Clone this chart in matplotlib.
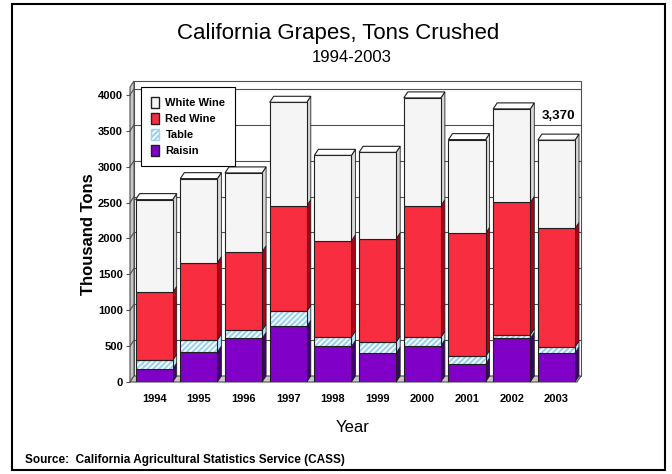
import matplotlib
matplotlib.use("Agg")
import matplotlib.pyplot as plt
from matplotlib import font_manager
from matplotlib.patches import Polygon, Rectangle, Patch

# Data (thousand tons)
years = ["1994", "1995", "1996", "1997", "1998", "1999", "2000", "2001", "2002", "2003"]
raisin = [181, 418, 608, 775, 496, 404, 506, 251, 608, 404]
table = [120, 167, 112, 209, 131, 153, 116, 106, 51, 84]
red_wine = [948, 1078, 1096, 1473, 1342, 1440, 1835, 1714, 1844, 1653]
white_wine = [1292, 1170, 1097, 1440, 1189, 1203, 1501, 1306, 1302, 1229]
yticks = [0, 500, 1000, 1500, 2000, 2500, 3000, 3500, 4000]

names = {f.name for f in font_manager.fontManager.ttflist}
narrow = "Liberation Sans Narrow" if "Liberation Sans Narrow" in names else "Liberation Sans"
plt.rcParams["hatch.linewidth"] = 1.6

W, H = 672, 474
fig = plt.figure(figsize=(W / 100, H / 100), dpi=100)

# front plane of the axes in pixels
left, right, bottom, top = 130, 577, 382, 87
ax = fig.add_axes([left / W, 1 - bottom / H, (right - left) / W, (bottom - top) / H])
xmin, xmax = -0.54, 9.46
ymax = 4110
ax.set_xlim(xmin, xmax)
ax.set_ylim(0, ymax)

# depth of the 3D effect, converted from pixels to data units
dx_px, dy_px = 4, 6
ddx = dx_px * (xmax - xmin) / (right - left)
ddy = dy_px * ymax / (bottom - top)

grid_col = "#505050"
# back wall
ax.add_patch(Rectangle((xmin + ddx, ddy), xmax - xmin, ymax, facecolor="white",
                       edgecolor=grid_col, lw=0.8, clip_on=False, zorder=0))
# left wall
ax.add_patch(Polygon([(xmin, 0), (xmin + ddx, ddy), (xmin + ddx, ymax + ddy), (xmin, ymax)],
                     closed=True, facecolor="#c8c8c8", edgecolor=grid_col, lw=0.8,
                     clip_on=False, zorder=0.5))
# gridlines on back and left walls
for v in yticks[1:]:
    ax.plot([xmin + ddx, xmax + ddx], [v + ddy, v + ddy], color=grid_col, lw=0.8,
            clip_on=False, zorder=0.6)
    ax.plot([xmin, xmin + ddx], [v, v + ddy], color=grid_col, lw=0.8,
            clip_on=False, zorder=0.6)
# floor
ax.add_patch(Polygon([(xmin, 0), (xmax, 0), (xmax + ddx, ddy), (xmin + ddx, ddy)],
                     closed=True, facecolor="#c8c8c8", edgecolor=grid_col, lw=0.8,
                     clip_on=False, zorder=0.7))

x = list(range(len(years)))
width = 0.83
series = [
    ("Raisin", raisin, "#8000c8", "#400070", None),
    ("Table", table, "white", "#b8e2f8", "//////"),
    ("Red Wine", red_wine, "#f82d40", "#b00018", None),
    ("White Wine", white_wine, "#f5f5f5", "#d8d8d8", None),
]

bottoms = [0] * len(years)
for label, vals, face, side, hatch in series:
    if hatch:
        ax.bar(x, vals, width, bottom=bottoms, color=face, edgecolor="#9ad4f2",
               hatch=hatch, lw=0, zorder=2)
        ax.bar(x, vals, width, bottom=bottoms, fill=False, edgecolor="#202020",
               lw=0.8, zorder=2.1)
    else:
        ax.bar(x, vals, width, bottom=bottoms, color=face, edgecolor="#202020",
               lw=0.8, zorder=2)
    for xi, b, h in zip(x, bottoms, vals):
        xr = xi + width / 2
        ax.add_patch(Polygon([(xr, b), (xr, b + h), (xr + ddx, b + h + ddy), (xr + ddx, b + ddy)],
                             closed=True, facecolor=side, edgecolor="#202020", lw=0.6,
                             clip_on=False, zorder=1.9))
    bottoms = [b + v for b, v in zip(bottoms, vals)]

# top faces
for xi, t in zip(x, bottoms):
    xl, xr = xi - width / 2, xi + width / 2
    ax.add_patch(Polygon([(xl, t), (xr, t), (xr + ddx, t + ddy), (xl + ddx, t + ddy)],
                         closed=True, facecolor="white", edgecolor="#202020", lw=0.8,
                         clip_on=False, zorder=2.2))

# label on last bar
ax.annotate("3,370", (x[-1] + ddx / 2, bottoms[-1] + ddy), xytext=(0, 9),
            textcoords="offset points", ha="center", va="bottom",
            fontsize=9.5, fontweight="bold", family=narrow)

for s in ax.spines.values():
    s.set_visible(False)
ax.set_xticks(x)
ax.set_xticklabels(years, family=narrow, fontsize=8, fontweight="bold")
ax.set_yticks(yticks)
ax.set_yticklabels([str(v) for v in yticks], family=narrow, fontsize=8, fontweight="bold")
ax.tick_params(axis="x", length=0, pad=9)
ax.tick_params(axis="y", length=3, width=0.8, color=grid_col, pad=2)
ax.set_ylabel("Thousand Tons", fontsize=12, fontweight="bold", family="Liberation Sans")
ax.yaxis.set_label_coords(-34 / 447, 0.5)
ax.set_xlabel("Year", fontsize=12, family=narrow)
ax.xaxis.set_label_coords(0.499, -38 / 295)

handles = [Patch(facecolor=c, edgecolor="#202020", hatch=h, label=l)
           for l, _, c, _, h in reversed(series)]
handles[2] = Patch(facecolor="white", edgecolor="#9ad4f2", hatch="//////", label="Table")
leg = fig.legend(handles=handles, loc="upper left", bbox_to_anchor=(141 / W, 1 - 87 / H),
                 frameon=True, fancybox=False, edgecolor="black", framealpha=1,
                 prop={"family": narrow, "weight": "bold", "size": 8},
                 handlelength=0.7, handleheight=1.1, labelspacing=0.45,
                 borderpad=0.9, handletextpad=0.6, borderaxespad=0)
leg.get_frame().set_linewidth(0.8)
leg.set_zorder(5)

fig.text(338 / W, 1 - 33 / H, "California Grapes, Tons Crushed", ha="center", va="center",
         fontsize=16, family=narrow)
fig.text(352 / W, 1 - 58 / H, "1994-2003", ha="center", va="center", fontsize=12,
         family=narrow)
fig.text(25 / W, 1 - 460 / H, "Source:  California Agricultural Statistics Service (CASS)",
         ha="left", va="center", fontsize=8.5, fontweight="bold", family=narrow)

# outer border
fig.add_artist(Rectangle((12 / W, 1 - 470 / H), 653 / W, 466 / H, transform=fig.transFigure,
                         fill=False, edgecolor="black", lw=1.5))

plt.savefig("out.png", dpi=100)
